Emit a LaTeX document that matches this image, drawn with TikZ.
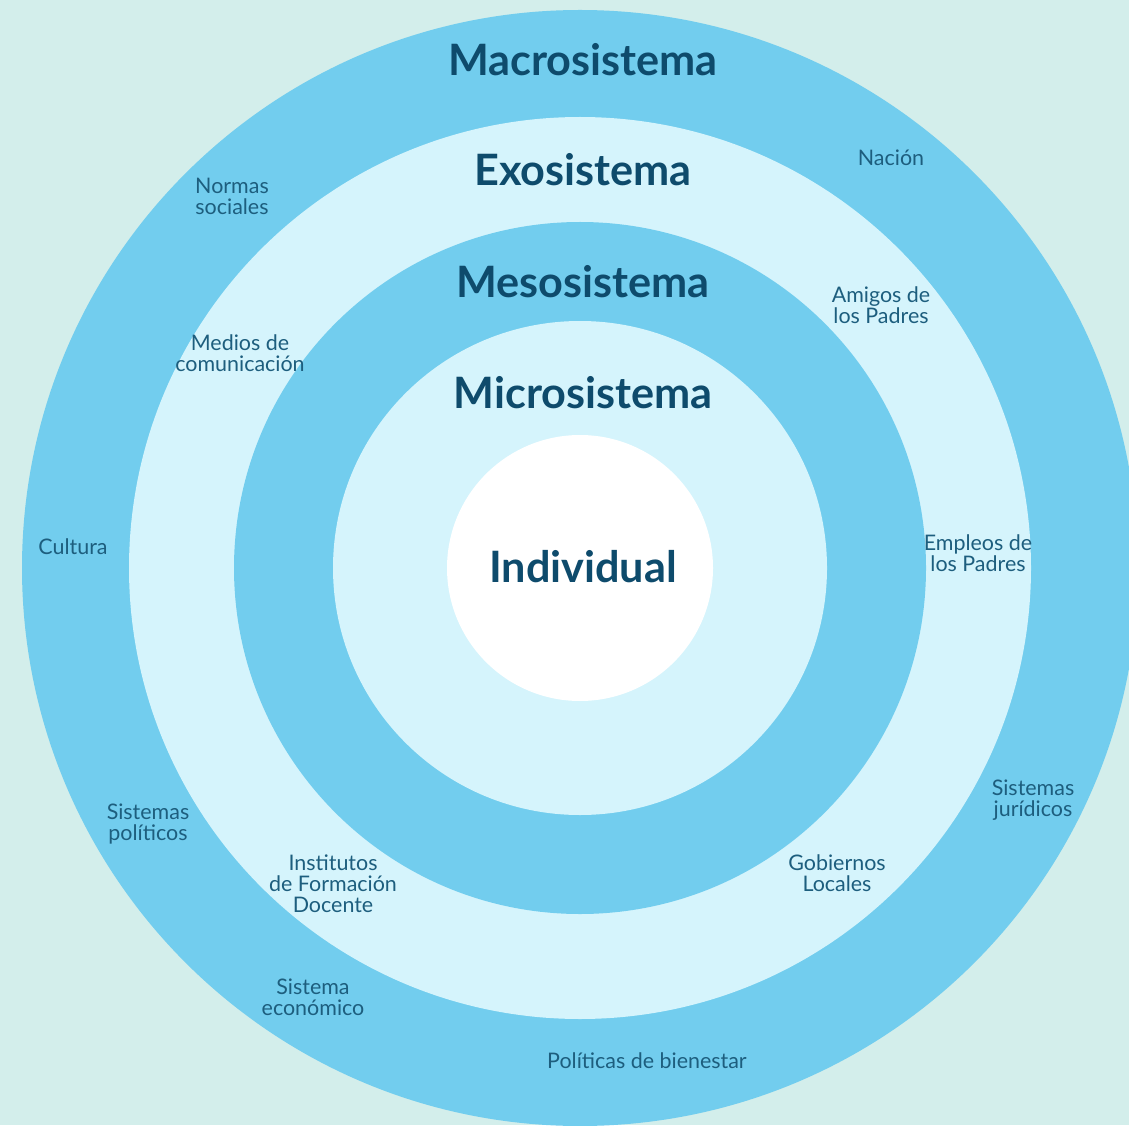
\documentclass[tikz,border=0pt]{standalone}
\usepackage{fontspec}
\setmainfont{Lato}
\usepackage{xcolor}
\usetikzlibrary{positioning}
\definecolor{bgcol}{HTML}{D3EEEB}
\definecolor{ringblue}{HTML}{72CDEE}
\definecolor{ringlight}{HTML}{D5F4FC}
\definecolor{titlecol}{HTML}{0E4B6C}
\definecolor{factorcol}{HTML}{1D5E7E}

\begin{document}
\begin{tikzpicture}[
  ringname/.style={font=\fontsize{12.3}{13}\selectfont\bfseries, text=titlecol, inner sep=0pt},
  factor/.style={font=\fontsize{6.1}{6}\selectfont, text=factorcol, align=center, inner sep=0pt}
]
\useasboundingbox (0,0) rectangle (11.29,11.25);
\fill[bgcol] (0,0) rectangle (11.29,11.25);
\coordinate (c) at (5.80,5.57);

% Rings, outside in
\begin{scope}
\clip (0,0) rectangle (11.29,11.25);
\fill[ringblue] (c) circle (5.58);
\fill[ringlight] (c) circle (4.51);
\fill[ringblue] (c) circle (3.46);
\fill[ringlight] (c) circle (2.47);
\fill[white] (c) circle (1.33);
\end{scope}

% Ring names
\node[ringname] (macro) at (5.83,10.65) {Macrosistema};
\node[ringname] (exo) at (5.83,9.55) {Exosistema};
\node[ringname] (meso) at (5.83,8.43) {Mesosistema};
\node[ringname] (micro) at (5.83,7.32) {Microsistema};
\node[ringname] (indiv) at (5.83,5.58) {Individual};

% Macrosistema factors
\node[factor] (normas) at (2.32,9.29) {Normas\\sociales};
\node[factor] (nacion) at (8.91,9.67) {Nación};
\node[factor] (cultura) at (0.73,5.78) {Cultura};
\node[factor] (politicos) at (1.48,3.01) {Sistemas\\políticos};
\node[factor] (juridicos) at (10.33,3.25) {Sistemas\\jurídicos};
\node[factor] (economico) at (3.13,1.28) {Sistema\\económico};
\node[factor] (bienestar) at (6.47,0.64) {Políticas de bienestar};

% Exosistema factors
\node[factor] (medios) at (2.40,7.72) {Medios de\\comunicación};
\node[factor] (amigos) at (8.81,8.20) {Amigos de\\los Padres};
\node[factor] (empleos) at (9.78,5.72) {Empleos de\\los Padres};
\node[factor] (institutos) at (3.33,2.41) {Institutos\\de Formación\\Docente};
\node[factor] (gobiernos) at (8.37,2.52) {Gobiernos\\Locales};
\end{tikzpicture}
\end{document}
